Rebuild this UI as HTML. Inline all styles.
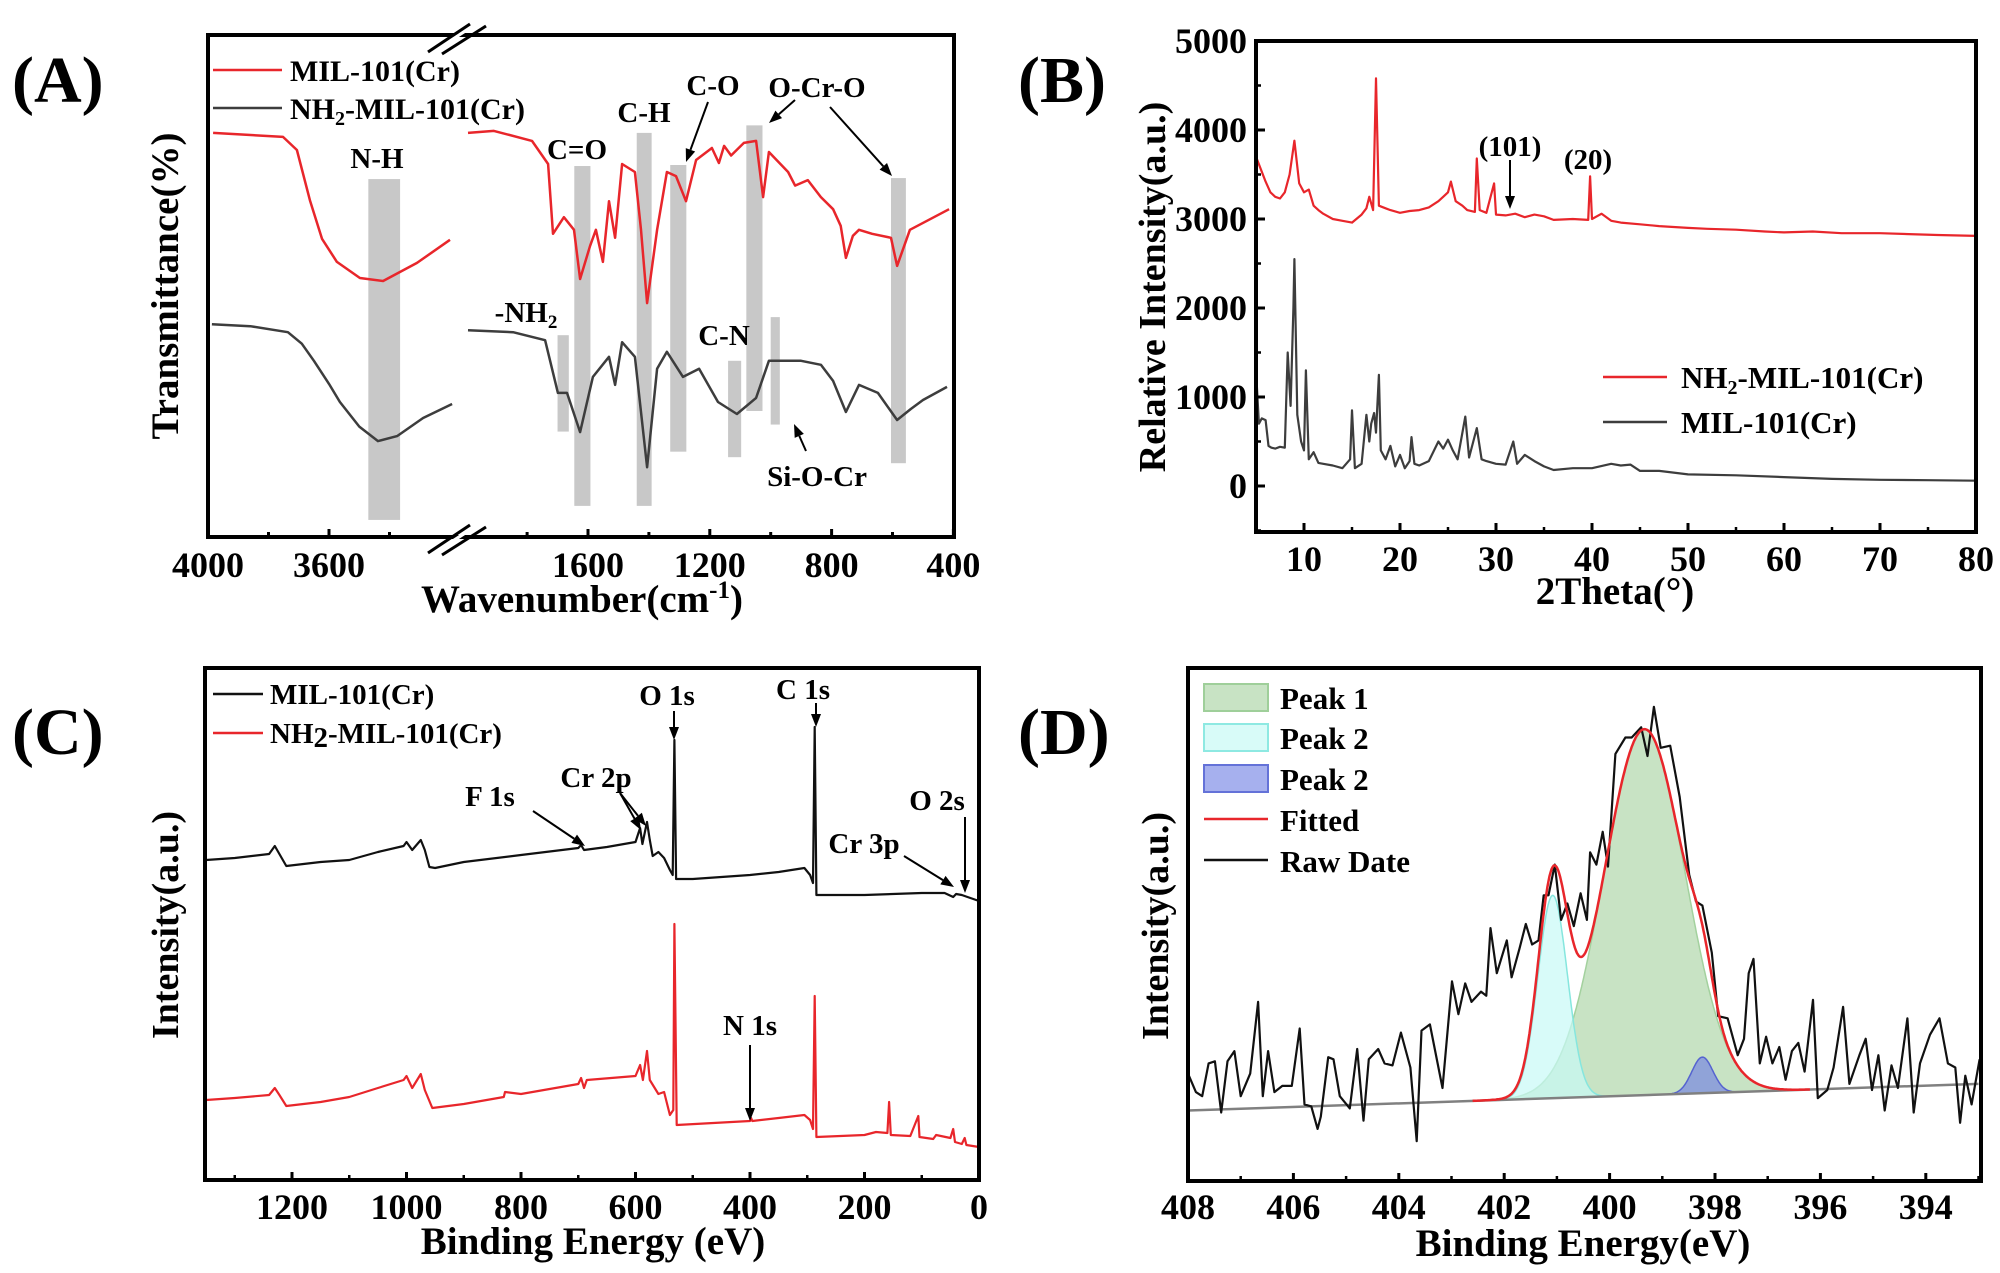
<!DOCTYPE html>
<html><head><meta charset="utf-8"><style>
html,body{margin:0;padding:0;background:#fff}
svg{display:block;font-family:"Liberation Serif",serif;font-weight:bold}
</style></head><body>
<svg id="fig" width="2000" height="1273" viewBox="0 0 2000 1273" xmlns="http://www.w3.org/2000/svg">
<rect width="2000" height="1273" fill="#fff"/>
<text x="12" y="102" font-size="66">(A)</text>
<text x="1018" y="102" font-size="66">(B)</text>
<text x="12" y="754" font-size="66">(C)</text>
<text x="1018" y="754" font-size="66">(D)</text>

<g id="pa">
 <g id="aBars"></g>
 <g id="aLines"></g>
 <rect x="208" y="35" width="746" height="502" fill="none" stroke="#000" stroke-width="4"/>
 <g>
  <polygon points="436,48 442,48 482,22 476,22" fill="#fff"/>
  <line x1="428" y1="52" x2="470" y2="24" stroke="#000" stroke-width="3"/>
  <line x1="442" y1="54" x2="486" y2="26" stroke="#000" stroke-width="3"/>
 </g>
 <g>
  <polygon points="436,550 442,550 482,524 476,524" fill="#fff"/>
  <line x1="428" y1="553" x2="470" y2="525" stroke="#000" stroke-width="3"/>
  <line x1="442" y1="555" x2="486" y2="527" stroke="#000" stroke-width="3"/>
 </g>
 <g id="aTicks"></g>
 <text x="582" y="612" font-size="39" text-anchor="middle">Wavenumber(cm<tspan font-size="25" dy="-14">-1</tspan><tspan dy="14">)</tspan></text>
 <text transform="translate(178,286) rotate(-90)" font-size="39" text-anchor="middle">Transmittance(%)</text>
 <g>
  <line x1="213" y1="70" x2="282" y2="70" stroke="#e8262b" stroke-width="2.5"/>
  <text x="290" y="81" font-size="30">MIL-101(Cr)</text>
  <line x1="213" y1="108" x2="282" y2="108" stroke="#3d3d3d" stroke-width="2.5"/>
  <text x="290" y="119" font-size="30">NH<tspan font-size="20" dy="6">2</tspan><tspan dy="-6">-MIL-101(Cr)</tspan></text>
 </g>
 <g font-size="29" text-anchor="middle">
  <text x="377" y="168">N-H</text>
  <text x="577" y="159">C=O</text>
  <text x="644" y="122">C-H</text>
  <text x="713" y="95">C-O</text>
  <text x="817" y="97">O-Cr-O</text>
  <text x="526" y="322">-NH<tspan font-size="19" dy="6">2</tspan></text>
  <text x="724" y="345">C-N</text>
  <text x="817" y="486">Si-O-Cr</text>
 </g>
</g>

<g id="pb">
 <g id="bLines"></g>
 <rect x="1256" y="41" width="720" height="491" fill="none" stroke="#000" stroke-width="4"/>
 <g id="bTicks"></g>
 <text x="1615" y="604" font-size="39" text-anchor="middle">2Theta(°)</text>
 <text transform="translate(1165,287) rotate(-90)" font-size="38" text-anchor="middle">Relative Intensity(a.u.)</text>
 <g>
  <line x1="1603" y1="377" x2="1667" y2="377" stroke="#e8262b" stroke-width="2.5"/>
  <text x="1681" y="388" font-size="31">NH<tspan font-size="20" dy="6">2</tspan><tspan dy="-6">-MIL-101(Cr)</tspan></text>
  <line x1="1603" y1="422" x2="1667" y2="422" stroke="#3d3d3d" stroke-width="2.5"/>
  <text x="1681" y="433" font-size="31">MIL-101(Cr)</text>
 </g>
 <text x="1510" y="156" font-size="29" text-anchor="middle">(101)</text>
 <text x="1588" y="169" font-size="29" text-anchor="middle">(20)</text>
</g>

<g id="pc">
 <g id="cLines"></g>
 <rect x="205" y="668" width="774" height="512" fill="none" stroke="#000" stroke-width="4"/>
 <g id="cTicks"></g>
 <text x="593" y="1254" font-size="39" text-anchor="middle">Binding Energy (eV)</text>
 <text transform="translate(178,925) rotate(-90)" font-size="38" text-anchor="middle">Intensity(a.u.)</text>
 <g>
  <line x1="213" y1="694" x2="263" y2="694" stroke="#111" stroke-width="2.5"/>
  <text x="270" y="704" font-size="29">MIL-101(Cr)</text>
  <line x1="213" y1="733" x2="263" y2="733" stroke="#e8262b" stroke-width="2.5"/>
  <text x="270" y="743" font-size="29">NH<tspan dy="4">2</tspan><tspan dy="-4">-MIL-101(Cr)</tspan></text>
 </g>
 <g font-size="29" text-anchor="middle">
  <text x="667" y="705">O 1s</text>
  <text x="803" y="699">C 1s</text>
  <text x="490" y="806">F 1s</text>
  <text x="596" y="787">Cr 2p</text>
  <text x="937" y="810">O 2s</text>
  <text x="864" y="853">Cr 3p</text>
  <text x="750" y="1035">N 1s</text>
 </g>
</g>

<g id="pd">
 <g id="dLines"></g>
 <rect x="1188" y="668" width="793" height="513" fill="none" stroke="#000" stroke-width="4"/>
 <g id="dTicks"></g>
 <text x="1583" y="1256" font-size="39" text-anchor="middle">Binding Energy(eV)</text>
 <text transform="translate(1168,926) rotate(-90)" font-size="38" text-anchor="middle">Intensity(a.u.)</text>
 <g>
  <rect x="1204" y="684" width="64" height="27" fill="#c8e3c4" stroke="#9fcf9a" stroke-width="2"/>
  <text x="1280" y="709" font-size="31">Peak 1</text>
  <rect x="1204" y="724" width="64" height="27" fill="#d8fbf8" stroke="#8ee9e2" stroke-width="2"/>
  <text x="1280" y="749" font-size="31">Peak 2</text>
  <rect x="1204" y="765" width="64" height="27" fill="#a6b0ee" stroke="#6472d8" stroke-width="2"/>
  <text x="1280" y="790" font-size="31">Peak 2</text>
  <line x1="1204" y1="819" x2="1268" y2="819" stroke="#e8262b" stroke-width="2.5"/>
  <text x="1280" y="831" font-size="31">Fitted</text>
  <line x1="1204" y1="860" x2="1268" y2="860" stroke="#111" stroke-width="2.5"/>
  <text x="1280" y="872" font-size="31">Raw Date</text>
 </g>
</g>
<g id="arrows"></g>
</svg>
<script>
// ---------- Panel A data (FTIR) ----------
const aRedLeftW = [3983,3752,3706,3663,3623,3574,3498,3421,3309,3200];
const aRedLeftT = [80.5,79.7,77.1,67.1,59.4,54.8,51.6,51.0,54.6,59.2];
const aBlkLeftW = [3987,3860,3736,3690,3650,3600,3564,3500,3438,3375,3289,3193];
const aBlkLeftT = [42.4,42.0,40.8,38.5,35.1,30.5,26.9,22.0,19.1,20.1,23.7,26.5];
const aRedRightW = [1994,1909,1784,1731,1715,1679,1646,1626,1593,1574,1551,1531,1511,1488,1446,1426,1406,1373,1341,1311,1278,1245,1193,1170,1153,1130,1088,1048,1025,1006,943,920,878,835,795,770,753,730,710,667,605,585,543,414];
const aRedRightT = [80.5,80.9,78.9,74.3,60.4,63.7,61.2,51.4,58.0,61.2,54.8,66.9,59.6,74.3,72.7,61.2,46.6,61.2,72.7,71.9,66.9,75.1,77.5,74.5,77.9,76.0,78.5,78.9,67.7,76.7,72.7,70.0,71.1,67.7,65.3,62.0,55.6,60.0,61.2,60.4,59.6,54.0,61.2,65.3];
const aBlkRightW = [1994,1846,1741,1699,1669,1626,1584,1531,1511,1488,1446,1406,1373,1341,1288,1235,1173,1111,1048,1006,900,835,795,753,710,648,585,540,500,421];
const aBlkRightT = [41.2,40.8,39.2,28.7,28.7,20.9,31.9,35.9,30.3,38.8,35.9,13.9,33.5,36.9,31.9,33.5,26.9,24.5,27.7,35.1,35.1,34.3,31.1,24.9,30.3,28.7,23.3,25.5,27.3,29.9];
const aBandX1 = [3470,1645,1700,1440,1330,1140,1080,1000,605];
const aBandX2 = [3365,1592,1663,1391,1277,1097,1027,970,556];
const aBandTop = [71.3,73.9,40.2,80.5,74.1,35.1,82.0,43.8,71.5];
const aBandBot = [3.4,6.2,21.0,6.2,17.0,15.9,25.1,22.4,14.7];
const aTickVals = [4000,3600,1600,1200,800,400];
const aMinorVals = [3800,3400,1800,1400,1000,600];

// ---------- Panel B data (XRD) ----------
const bTheta = [5,5.5,6,6.5,7,7.5,8,8.5,9,9.5,10,10.5,11,11.5,12,13,14,15,16,16.5,16.8,17.2,17.5,17.8,18.5,19,20,21,22,23,24,24.5,25,25.3,25.8,26.5,27,27.8,28,28.3,29,29.8,30,31,32,33,34,35,36,38,39.6,39.8,40,41,42,43,45,47,50,52,55,58,60,63,66,70,73,76,80];
const bRed = [3700,3560,3420,3300,3250,3230,3300,3500,3880,3400,3300,3330,3150,3100,3060,3000,2980,2960,3050,3120,3250,3100,4580,3150,3120,3100,3070,3090,3100,3130,3200,3250,3300,3420,3200,3150,3100,3080,3680,3100,3070,3400,3050,3040,3060,3020,3050,3030,2990,3000,2990,3480,3000,3060,2980,2960,2940,2920,2900,2890,2880,2860,2850,2860,2840,2840,2830,2820,2810];
const bBlkTheta = [5,5.3,5.6,6,6.3,6.6,7,7.5,8,8.3,8.6,8.9,9,9.3,9.7,10,10.2,10.5,11,11.5,12,13,14,14.8,15,15.3,16,16.5,16.8,17,17.3,17.5,17.8,18,18.5,19,19.5,20,20.5,21,21.2,21.5,22,23,24,24.5,25,25.5,26,26.8,27.2,28,28.5,29,30,31,31.8,32.2,33,34,35,36,38,40,42,43,44,45,47,50,55,60,65,70,75,80];
const bBlk = [1300,700,760,740,450,430,420,440,430,1500,900,2000,2550,800,500,400,1300,300,380,260,250,230,200,300,850,200,250,800,500,700,820,600,1250,400,300,450,220,350,200,280,550,250,230,280,500,420,520,400,300,780,320,650,300,280,250,240,500,250,350,280,220,180,200,200,250,230,240,170,170,130,120,100,80,70,65,60];
const bYTicks = [0,1000,2000,3000,4000,5000];
const bXTicks = [10,20,30,40,50,60,70,80];

// ---------- Panel C data (XPS survey) ----------
const cBE = [1350,1300,1240,1230,1222,1210,1150,1100,1050,1005,1000,990,975,968,960,950,900,800,700,695,690,650,600,592,588,580,575,570,560,550,540,535,532,529,500,400,350,305,295,290,287,284,200,100,60,45,40,30,20,10,0];
const cBlack = [320,322,326,334,326,314,318,320,328,334,338,330,340,330,313,312,318,325,332,335,330,333,338,352,336,358,340,324,328,322,310,305,440,301,301,305,308,312,305,297,453,285,285,287,287,283,286,285,283,281,279];
const cBE2 = [1350,1300,1240,1230,1222,1210,1150,1100,1050,1005,1000,990,975,968,955,900,830,828,800,700,695,690,685,600,592,587,580,575,560,550,540,534,532,528,400,398,396,350,305,295,290,287,284,200,180,160,157,154,120,106,104,80,75,50,45,42,30,25,22,0];
const cRed = [80,82,85,92,85,74,78,83,92,100,104,92,106,90,72,76,83,88,86,96,102,92,100,104,115,100,129,100,86,88,65,70,256,55,59,62,59,62,65,60,51,184,43,45,48,47,78,45,44,64,43,41,45,42,51,38,36,42,35,33];
const cTickVals = [1200,1000,800,600,400,200,0];

// ---------- Panel D data (N 1s) ----------
const dBE = [408.00,407.85,407.73,407.61,407.49,407.37,407.25,407.12,407.00,406.82,406.67,406.58,406.48,406.36,406.21,406.03,405.88,405.79,405.66,405.54,405.48,405.34,405.24,405.12,404.93,404.79,404.67,404.57,404.39,404.27,404.12,403.96,403.78,403.66,403.57,403.41,403.17,402.99,402.87,402.74,402.62,402.44,402.34,402.26,402.14,401.95,401.86,401.71,401.59,401.47,401.35,401.25,401.16,401.04,400.92,400.80,400.68,400.55,400.43,400.37,400.25,400.13,400.03,399.89,399.70,399.58,399.40,399.28,399.16,399.03,398.85,398.67,398.49,398.36,398.24,398.06,397.94,397.76,397.57,397.45,397.36,397.27,397.15,397.03,396.91,396.78,396.66,396.54,396.42,396.30,396.14,396.05,395.87,395.75,395.57,395.45,395.26,395.14,395.02,394.90,394.78,394.65,394.53,394.35,394.23,394.11,393.92,393.74,393.58,393.44,393.35,393.25,393.13,392.98];
const dRaw = [263,218,208,288,293,168,293,318,208,263,438,208,318,218,233,233,373,188,183,128,158,303,298,208,178,323,148,298,323,288,283,363,278,98,368,383,228,488,408,483,438,463,453,618,508,588,498,568,628,578,588,698,698,773,638,678,623,703,638,803,773,853,768,1043,1083,1083,1108,1038,1158,1058,1063,938,748,683,673,558,403,398,308,348,508,543,288,353,288,328,248,318,338,268,443,203,223,278,426,238,308,348,223,308,173,283,228,398,168,288,358,398,288,278,143,258,188,298];
const dBaselineBE = [408,393];
const dBaselineVal = [173,238];
const dPeakCenter = [399.34,401.08,398.24];
const dPeakAmp = [893,495,88];
const dPeakSigma = [0.77,0.28,0.2];
const dTickVals = [408,406,404,402,400,398,396,394];

const NS = 'http://www.w3.org/2000/svg';
function mk(tag, attrs, parent){const e=document.createElementNS(NS,tag);for(const k in attrs)e.setAttribute(k,attrs[k]);parent.appendChild(e);return e;}

const xA = w => w >= 2500 ? 208 + (4000 - w) * 0.3025 : 588 + (1600 - w) * 0.3045;
const yA = t => 537 - t * 5.02;
const xB = t => 1256 + (t - 5) * 9.6;
const yB = v => 486 - v * 0.089;
const xC = e => 979 - e * 0.5725;
const yC = v => 1180 - v;
const xD = be => 1188 + (408 - be) * 52.7;
const yD = v => 1181.4 - v / 2.44;

function poly(xs, ys, fx, fy, color, width, parent, name){
  let d='';
  for(let i=0;i<xs.length;i++){d+=(i?'L':'M')+fx(xs[i]).toFixed(1)+','+fy(ys[i]).toFixed(1);}
  const el = mk('path',{d:d,fill:'none',stroke:color,'stroke-width':width,'stroke-linejoin':'round'},parent);
  
  
  return el;
}

const aBars=document.getElementById('aBars');
for(let i=0;i<aBandX1.length;i++){
  const x1=xA(aBandX1[i]), x2=xA(aBandX2[i]);
  const r=mk('rect',{x:x1,y:yA(aBandTop[i]),width:x2-x1,height:yA(aBandBot[i])-yA(aBandTop[i]),fill:'#c8c8c8'},aBars);
  
  
}
const aL=document.getElementById('aLines');
poly(aRedLeftW,aRedLeftT,xA,yA,'#e8262b',2.5,aL,'mil101-ftir-left');
poly(aBlkLeftW,aBlkLeftT,xA,yA,'#3d3d3d',2.5,aL,'nh2-mil101-ftir-left');
poly(aRedRightW,aRedRightT,xA,yA,'#e8262b',2.5,aL,'mil101-ftir-right');
poly(aBlkRightW,aBlkRightT,xA,yA,'#3d3d3d',2.5,aL,'nh2-mil101-ftir-right');
const aT=document.getElementById('aTicks');
aTickVals.forEach(v=>{
  mk('line',{x1:xA(v),x2:xA(v),y1:537,y2:529,stroke:'#000','stroke-width':3},aT);
  const t=mk('text',{x:xA(v),y:577,'font-size':36,'text-anchor':'middle'},aT);
  t.textContent=v;
  
  
});
aMinorVals.forEach(v=>mk('line',{x1:xA(v),x2:xA(v),y1:537,y2:532,stroke:'#000','stroke-width':3},aT));

const bL=document.getElementById('bLines');
poly(bTheta,bRed,xB,yB,'#e8262b',2.2,bL,'nh2-mil101-xrd');
poly(bBlkTheta,bBlk,xB,yB,'#3d3d3d',2.2,bL,'mil101-xrd');
const bT=document.getElementById('bTicks');
bXTicks.forEach(v=>{
  mk('line',{x1:xB(v),x2:xB(v),y1:532,y2:523,stroke:'#000','stroke-width':3},bT);
  mk('line',{x1:xB(v-5),x2:xB(v-5),y1:532,y2:527,stroke:'#000','stroke-width':2.5},bT);
  const t=mk('text',{x:xB(v),y:571,'font-size':36,'text-anchor':'middle'},bT);
  t.textContent=v;
  
  
});
bYTicks.forEach(v=>{
  mk('line',{x1:1256,x2:1265,y1:yB(v),y2:yB(v),stroke:'#000','stroke-width':3},bT);
  mk('line',{x1:1256,x2:1261,y1:yB(v-500),y2:yB(v-500),stroke:'#000','stroke-width':2.5},bT);
  const t=mk('text',{x:1247,y:yB(v)+12,'font-size':36,'text-anchor':'end'},bT);
  t.textContent=v;
  
  
});

const cL=document.getElementById('cLines');
poly(cBE,cBlack,xC,yC,'#111',2.2,cL,'mil101-xps-survey');
poly(cBE2,cRed,xC,yC,'#e8262b',2.2,cL,'nh2-mil101-xps-survey');
const cT=document.getElementById('cTicks');
cTickVals.forEach(v=>{
  mk('line',{x1:xC(v),x2:xC(v),y1:1180,y2:1172,stroke:'#000','stroke-width':3},cT);
  mk('line',{x1:xC(v+100),x2:xC(v+100),y1:1180,y2:1175,stroke:'#000','stroke-width':2.5},cT);
  const t=mk('text',{x:xC(v),y:1219,'font-size':36,'text-anchor':'middle'},cT);
  t.textContent=v;
  
  
});

const dL=document.getElementById('dLines');
const base = be => dBaselineVal[0] + (dBaselineVal[1]-dBaselineVal[0])*(dBaselineBE[0]-be)/(dBaselineBE[0]-dBaselineBE[1]);
const gauss = (k,be) => dPeakAmp[k]*Math.exp(-Math.pow(be-dPeakCenter[k],2)/(2*dPeakSigma[k]*dPeakSigma[k]));
const peakFill=['rgba(170,212,165,0.65)','rgba(200,250,246,0.7)','rgba(120,135,225,0.7)'];
const peakStroke=['#a3d19e','#86e6de','#5563d0'];
const peakNames=['peak1-fill','peak2-fill','peak3-fill'];
for(let k=0;k<3;k++){
  const lo=dPeakCenter[k]-3.6*dPeakSigma[k], hi=dPeakCenter[k]+3.6*dPeakSigma[k];
  let d='', d2='';
  for(let be=hi;be>=lo;be-=0.02){d+=(d?'L':'M')+xD(be).toFixed(1)+','+yD(base(be)+gauss(k,be)).toFixed(1);}
  d2=d;
  d+='L'+xD(lo).toFixed(1)+','+yD(base(lo)).toFixed(1)+'L'+xD(hi).toFixed(1)+','+yD(base(hi)).toFixed(1)+'Z';
  const f=mk('path',{d:d,fill:peakFill[k],stroke:'none'},dL);
  
  
  mk('path',{d:d2,fill:'none',stroke:peakStroke[k],'stroke-width':1.5},dL);
}
const bl=mk('line',{x1:xD(dBaselineBE[0]),y1:yD(dBaselineVal[0]),x2:xD(dBaselineBE[1]),y2:yD(dBaselineVal[1]),stroke:'#808080','stroke-width':2.5},dL);


poly(dBE,dRaw,xD,yD,'#111',2.2,dL,'raw-data-line');
let fd='';
for(let be=402.6;be>=396.2;be-=0.02){const v=base(be)+gauss(0,be)+gauss(1,be)+gauss(2,be);fd+=(fd?'L':'M')+xD(be).toFixed(1)+','+yD(v).toFixed(1);}
const fl=mk('path',{d:fd,fill:'none',stroke:'#e8262b','stroke-width':2.5},dL);


const dT=document.getElementById('dTicks');
dTickVals.forEach(v=>{
  mk('line',{x1:xD(v),x2:xD(v),y1:1181,y2:1173,stroke:'#000','stroke-width':3},dT);
  mk('line',{x1:xD(v-1),x2:xD(v-1),y1:1181,y2:1176,stroke:'#000','stroke-width':2.5},dT);
  const t=mk('text',{x:xD(v),y:1219,'font-size':36,'text-anchor':'middle'},dT);
  t.textContent=v;
  
  
});

const ar=document.getElementById('arrows');
function arrow(x1,y1,x2,y2,name){
  const g=mk('g',{},ar);
  
  
  const a=Math.atan2(y2-y1,x2-x1), L=13, W=5;
  const bx=x2-L*Math.cos(a), by=y2-L*Math.sin(a);
  mk('line',{x1:x1,y1:y1,x2:bx,y2:by,stroke:'#000','stroke-width':2},g);
  mk('polygon',{points:`${x2},${y2} ${bx+W*Math.sin(a)},${by-W*Math.cos(a)} ${bx-W*Math.sin(a)},${by+W*Math.cos(a)}`,fill:'#000'},g);
}
arrow(708,102,686,162,'arrow-co');
arrow(795,100,769,123,'arrow-ocro-1');
arrow(830,107,892,176,'arrow-ocro-2');
arrow(806,451,794,424,'arrow-siocr');
arrow(1510,160,1510,209,'arrow-101');
arrow(674,711,674,740,'arrow-o1s');
arrow(816,703,816,727,'arrow-c1s');
arrow(533,811,585,846,'arrow-f1s');
arrow(620,793,641,830,'arrow-cr2p-1');
arrow(620,793,646,826,'arrow-cr2p-2');
arrow(965,817,965,893,'arrow-o2s');
arrow(904,856,954,887,'arrow-cr3p');
arrow(750,1045,750,1121,'arrow-n1s');
</script>
</body></html>
